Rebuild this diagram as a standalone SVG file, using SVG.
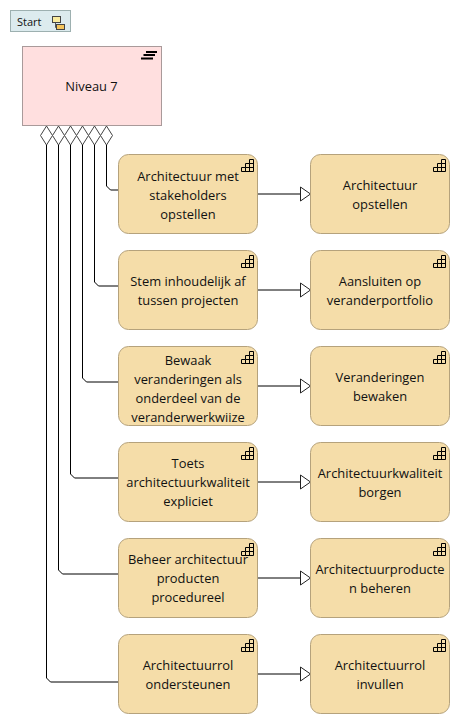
<svg xmlns="http://www.w3.org/2000/svg" width="460" height="724" viewBox="0 0 460 724">
<style>
text{font-family:"Open Sans","Noto Sans","Liberation Sans",sans-serif;font-size:12.9px;fill:#111;text-anchor:middle}
.n{fill:#f5dda9;stroke:#b5a27c;stroke-width:1}
.i{fill:none;stroke:#000;stroke-width:1}
.c{fill:none;stroke:#000;stroke-width:1}
.d{fill:#fff;stroke:#444;stroke-width:1}
.a{fill:#fff;stroke:#222;stroke-width:1}
</style>
<defs>
<g id="stair"><path class="i" d="M0.5 12.5H12.5V0.5H8.5V4.5H4.5V8.5H0.5ZM4.5 12.5V8.5H12.5M8.5 12.5V4.5H12.5"/></g>
</defs>
<rect width="460" height="724" fill="#fff"/>
<g id="connectors">
<path class="c" d="M46.5 145V678L50.5 682H118.5"/>
<path class="c" d="M58.5 145V570L62.5 574H118.5"/>
<path class="c" d="M70.5 145V474L74.5 478H118.5"/>
<path class="c" d="M82.5 145V378L86.5 382H118.5"/>
<path class="c" d="M94.5 145V282L98.5 286H118.5"/>
<path class="c" d="M106.5 145V186L110.5 190H118.5"/>
<path class="c" d="M257.5 194H300.5M257.5 290H300.5M257.5 386H300.5M257.5 482H300.5M257.5 578H300.5M257.5 674H300.5"/>
<path class="a" d="M300.5 187L310.5 194L300.5 201Z"/>
<path class="a" d="M300.5 283L310.5 290L300.5 297Z"/>
<path class="a" d="M300.5 379L310.5 386L300.5 393Z"/>
<path class="a" d="M300.5 475L310.5 482L300.5 489Z"/>
<path class="a" d="M300.5 571L310.5 578L300.5 585Z"/>
<path class="a" d="M300.5 667L310.5 674L300.5 681Z"/>
</g>
<g id="start">
<rect x="10.5" y="10.5" width="60" height="21" fill="#dcebee" stroke="#9db0b0"/>
<text x="17" y="25.5" style="text-anchor:start;font-size:11px">Start</text>
<path d="M55.5 20V27.5H58" fill="none" stroke="#555"/>
<rect x="52.5" y="16.5" width="8" height="6" fill="#f9eb9e" stroke="#444"/>
<rect x="56.5" y="24.5" width="8" height="5" fill="#f5c55c" stroke="#444"/>
</g>
<g id="niveau7">
<rect x="22.5" y="46.5" width="139" height="79" fill="#ffdfdf" stroke="#a99a9a"/>
<text x="91.5" y="91">Niveau 7</text>
<path d="M146 52H157M143.5 55H155M141 58.5H153" stroke="#000" stroke-width="2" fill="none"/>
</g>
<g id="diamonds">
<path class="d" d="M46.5 126L52.5 135.5L46.5 145L40.5 135.5Z"/>
<path class="d" d="M58.5 126L64.5 135.5L58.5 145L52.5 135.5Z"/>
<path class="d" d="M70.5 126L76.5 135.5L70.5 145L64.5 135.5Z"/>
<path class="d" d="M82.5 126L88.5 135.5L82.5 145L76.5 135.5Z"/>
<path class="d" d="M94.5 126L100.5 135.5L94.5 145L88.5 135.5Z"/>
<path class="d" d="M106.5 126L112.5 135.5L106.5 145L100.5 135.5Z"/>
</g>
<g id="l1"><rect class="n" x="118.5" y="154.5" width="139" height="79" rx="10"/><use href="#stair" x="241" y="159"/><text x="188" y="181">Architectuur met</text><text x="188" y="200">stakeholders</text><text x="188" y="219">opstellen</text></g>
<g id="r1"><rect class="n" x="310.5" y="154.5" width="139" height="79" rx="10"/><use href="#stair" x="433" y="159"/><text x="380" y="190">Architectuur</text><text x="380" y="209">opstellen</text></g>
<g id="l2"><rect class="n" x="118.5" y="250.500" width="139" height="79" rx="10"/><use href="#stair" x="241" y="255"/><text x="188" y="286">Stem inhoudelijk af</text><text x="188" y="305">tussen projecten</text></g>
<g id="r2"><rect class="n" x="310.5" y="250.500" width="139" height="79" rx="10"/><use href="#stair" x="433" y="255"/><text x="380" y="286">Aansluiten op</text><text x="380" y="305">veranderportfolio</text></g>
<g id="l3"><rect class="n" x="118.5" y="346.500" width="139" height="79" rx="10"/><use href="#stair" x="241" y="351"/><text x="188" y="365">Bewaak</text><text x="188" y="384">veranderingen als</text><text x="188" y="403">onderdeel van de</text><text x="188" y="422">veranderwerkwiize</text></g>
<g id="r3"><rect class="n" x="310.5" y="346.500" width="139" height="79" rx="10"/><use href="#stair" x="433" y="351"/><text x="380" y="382">Veranderingen</text><text x="380" y="401">bewaken</text></g>
<g id="l4"><rect class="n" x="118.5" y="442.500" width="139" height="79" rx="10"/><use href="#stair" x="241" y="447"/><text x="188" y="468">Toets</text><text x="188" y="487">architectuurkwaliteit</text><text x="188" y="506">expliciet</text></g>
<g id="r4"><rect class="n" x="310.5" y="442.500" width="139" height="79" rx="10"/><use href="#stair" x="433" y="447"/><text x="380" y="478">Architectuurkwaliteit</text><text x="380" y="497">borgen</text></g>
<g id="l5"><rect class="n" x="118.5" y="538.500" width="139" height="79" rx="10"/><use href="#stair" x="241" y="543"/><text x="188" y="564">Beheer architectuur</text><text x="188" y="583">producten</text><text x="188" y="602">procedureel</text></g>
<g id="r5"><rect class="n" x="310.5" y="538.500" width="139" height="79" rx="10"/><use href="#stair" x="433" y="543"/><text x="380" y="574">Architectuurproducte</text><text x="380" y="593">n beheren</text></g>
<g id="l6"><rect class="n" x="118.5" y="634.500" width="139" height="79" rx="10"/><use href="#stair" x="241" y="639"/><text x="188" y="670">Architectuurrol</text><text x="188" y="689">ondersteunen</text></g>
<g id="r6"><rect class="n" x="310.5" y="634.500" width="139" height="79" rx="10"/><use href="#stair" x="433" y="639"/><text x="380" y="670">Architectuurrol</text><text x="380" y="689">invullen</text></g>
</svg>
